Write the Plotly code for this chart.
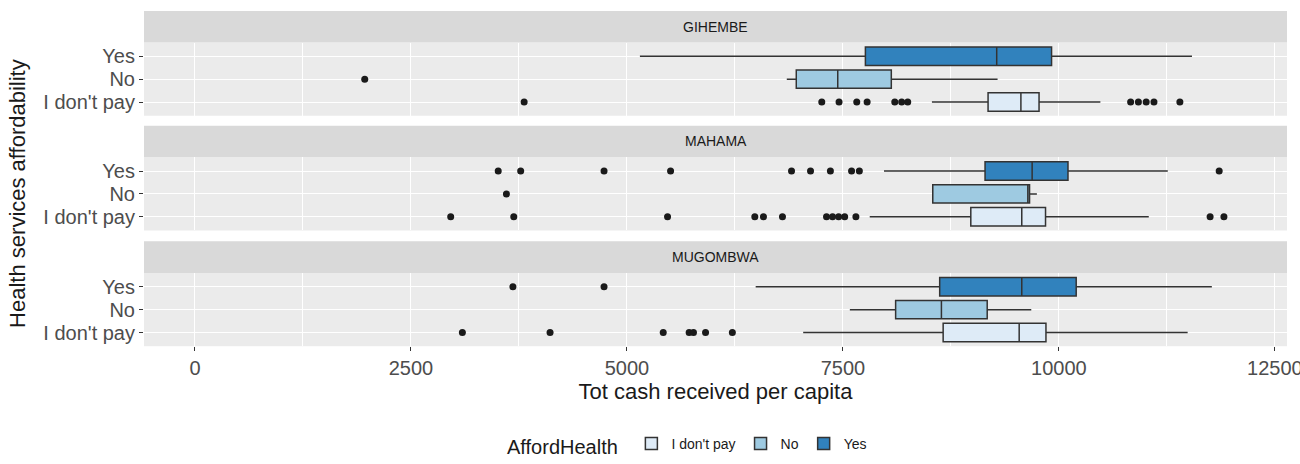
import plotly.graph_objects as go

# ---------------- data ----------------
facets = ["GIHEMBE", "MAHAMA", "MUGOMBWA"]
categories = ["I don't pay", "No", "Yes"]

# box statistics per facet, in category order: I don't pay, No, Yes
lowerfence = {
    "GIHEMBE":  [8530, 6850, 5150],
    "MAHAMA":   [7810, 8540, 7975],
    "MUGOMBWA": [7040, 7580, 6490],
}
q1 = {
    "GIHEMBE":  [9180, 6960, 7760],
    "MAHAMA":   [8980, 8540, 9145],
    "MUGOMBWA": [8660, 8110, 8620],
}
median = {
    "GIHEMBE":  [9560, 7440, 9280],
    "MAHAMA":   [9570, 9640, 9690],
    "MUGOMBWA": [9540, 8640, 9570],
}
q3 = {
    "GIHEMBE":  [9770, 8060, 9915],
    "MAHAMA":   [9845, 9660, 10105],
    "MUGOMBWA": [9850, 9170, 10200],
}
upperfence = {
    "GIHEMBE":  [10480, 9290, 11540],
    "MAHAMA":   [11040, 9745, 11260],
    "MUGOMBWA": [11490, 9680, 11770],
}

# outliers per facet and category
outliers = {
    "GIHEMBE": {
        "I don't pay": [3810, 7255, 7455, 7660, 7780, 8100, 8180, 8250,
                        10830, 10920, 11010, 11100, 11400],
        "No": [1965],
        "Yes": [],
    },
    "MAHAMA": {
        "I don't pay": [2960, 3690, 5470, 6480, 6580, 6800, 7310, 7380,
                        7450, 7520, 7650, 11750, 11910],
        "No": [3605],
        "Yes": [3510, 3770, 4735, 5505, 6905, 7125, 7355, 7600, 7690, 11855],
    },
    "MUGOMBWA": {
        "I don't pay": [3095, 4110, 5420, 5720, 5770, 5910, 6220],
        "No": [],
        "Yes": [3680, 4735],
    },
}

x_ticks = [0, 2500, 5000, 7500, 10000, 12500]
x_tick_labels = ["0", "2500", "5000", "7500", "10000", "12500"]

colors = {"I don't pay": "#deebf7", "No": "#9ecae1", "Yes": "#3182bd"}

# ---------------- layout geometry ----------------
W, H = 1300, 464
def py(p):
    return 1 - p / H

FONT = "Liberation Sans, Arial"
panels = [(43, 117), (159, 233), (276, 350)]
strips = [(11, 43), (127, 159), (244, 276)]
x_dom = [144 / W, 1287 / W]

fig = go.Figure()

for i, f in enumerate(facets):
    xa = "x" if i == 0 else f"x{i+1}"
    ya = "y" if i == 0 else f"y{i+1}"
    for j, c in enumerate(categories):
        fig.add_trace(go.Box(
            orientation="h",
            y=[c],
            q1=[q1[f][j]], median=[median[f][j]], q3=[q3[f][j]],
            lowerfence=[lowerfence[f][j]], upperfence=[upperfence[f][j]],
            fillcolor=colors[c],
            line=dict(color="#333333", width=1.5),
            whiskerwidth=0,
            width=0.8,
            boxpoints=False,
            name=c,
            legendgroup=c,
            showlegend=(i == 0),
            xaxis=xa, yaxis=ya,
            hoverinfo="skip",
        ))
        pts = outliers[f][c]
        if pts:
            fig.add_trace(go.Scatter(
                x=pts, y=[c] * len(pts), mode="markers",
                marker=dict(color="#1a1a1a", size=7),
                showlegend=False, xaxis=xa, yaxis=ya, hoverinfo="skip",
            ))

axis_common = dict(
    range=[-590, 12640],
    tickmode="array",
    tickvals=x_ticks,
    ticktext=x_tick_labels,
    showgrid=True, gridcolor="white", gridwidth=1.2,
    minor=dict(dtick=1250, tick0=0, showgrid=True, gridcolor="white", gridwidth=0.6),
    zeroline=False,
    domain=x_dom,
    showline=False,
    automargin=False,
)
yaxis_common = dict(
    type="category",
    categoryorder="array", categoryarray=categories,
    tickmode="array", tickvals=categories, ticktext=categories,
    range=[-0.6, 2.6],
    showgrid=True, gridcolor="white", gridwidth=1.2,
    zeroline=False,
    ticks="outside", ticklen=4, tickcolor="#333333",
    tickfont=dict(family=FONT, size=20, color="#4d4d4d"),
    showline=False,
    automargin=False,
)

layout = dict(
    width=W, height=H,
    margin=dict(l=0, r=0, t=0, b=0),
    paper_bgcolor="white",
    plot_bgcolor="#ebebeb",
    boxmode="overlay",
    font=dict(family=FONT, color="#1a1a1a"),
    showlegend=True,
    legend=dict(
        orientation="h",
        x=505 / W, xanchor="left",
        y=py(451), yanchor="middle",
        title=dict(text="AffordHealth ", font=dict(size=20, color="#1a1a1a"), side="left"),
        font=dict(size=14, color="#1a1a1a"),
        traceorder="normal",
        itemwidth=30,
    ),
)

for i in range(3):
    xk = "xaxis" if i == 0 else f"xaxis{i+1}"
    yk = "yaxis" if i == 0 else f"yaxis{i+1}"
    xa = dict(axis_common)
    ya = dict(yaxis_common)
    top, bot = panels[i]
    ya["domain"] = [py(bot), py(top)]
    ya["anchor"] = "x" if i == 0 else f"x{i+1}"
    xa["anchor"] = "y" if i == 0 else f"y{i+1}"
    if i < 2:
        xa["showticklabels"] = False
        xa["ticks"] = ""
    else:
        xa["ticks"] = "outside"
        xa["ticklen"] = 4
        xa["tickcolor"] = "#333333"
        xa["ticklabeloverflow"] = "allow"
        xa["tickfont"] = dict(family=FONT, size=20, color="#4d4d4d")
        xa["title"] = dict(text="Tot cash received per capita",
                           font=dict(size=22, color="#1a1a1a"), standoff=3)
    if i > 0:
        xa["matches"] = "x"
    layout[xk] = xa
    layout[yk] = ya

fig.update_layout(**layout)

# facet strips
for (top, bot), f in zip(strips, facets):
    fig.add_shape(type="rect", xref="paper", yref="paper",
                  x0=x_dom[0], x1=x_dom[1], y0=py(bot), y1=py(top),
                  fillcolor="#d9d9d9", line=dict(width=0), layer="below")
    fig.add_annotation(text=f, xref="paper", yref="paper",
                       x=(x_dom[0] + x_dom[1]) / 2, y=py((top + bot) / 2),
                       showarrow=False, font=dict(size=14, color="#1a1a1a"),
                       xanchor="center", yanchor="middle")

# y-axis title
fig.add_annotation(text="Health services affordability", xref="paper", yref="paper",
                   x=18 / W, y=py(196), textangle=-90, showarrow=False,
                   font=dict(size=22, color="#1a1a1a"),
                   xanchor="center", yanchor="middle")

fig.write_html("out.html")
